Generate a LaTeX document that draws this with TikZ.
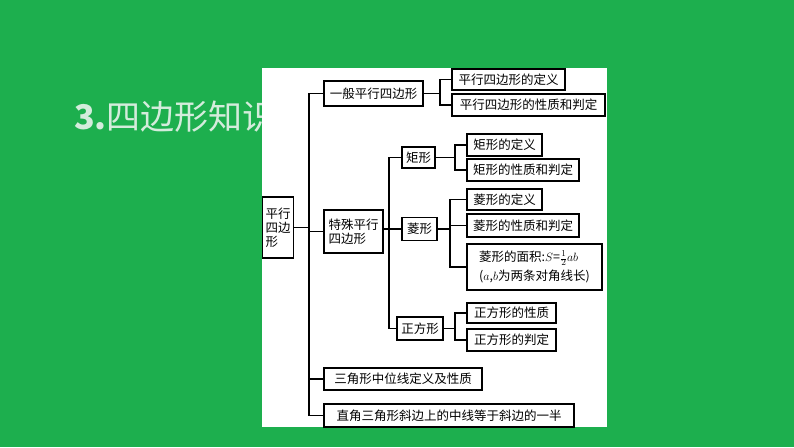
\documentclass[tikz,border=0pt]{standalone}
\usepackage{fontspec}
\newfontfamily\cjk{Noto Sans CJK SC}
\definecolor{bg}{HTML}{1DAF4E}
\definecolor{ttl}{HTML}{D4ECDC}
\begin{document}
\begin{tikzpicture}[x=1pt,y=-1pt,
  bx/.style={draw=black,line width=1.1pt,fill=white,inner sep=0pt,font=\cjk\fontsize{12.5}{14}\selectfont,align=left},
  ln/.style={line width=1.1pt}]
\useasboundingbox (0,0) rectangle (794,447);
\fill[bg] (0,0) rectangle (794,447);
\node[anchor=west,text=ttl,font=\cjk\fontsize{34}{36}\selectfont,inner sep=0] (title) at (74,117) {\textbf{3.}四边形知识};
\fill[white] (262,68) rectangle (607,427);
\node[bx,minimum width=31,minimum height=61] (root) at (278,227.5) {平行\\四边\\形};
\node[bx,minimum width=99,minimum height=25] (g) at (373.5,93.5) {一般平行四边形};
\node[bx,minimum width=59,minimum height=43] (t) at (353.5,231.5) {特殊平行\\四边形};
\node[bx,minimum width=158,minimum height=22] (z) at (403,379) {三角形中位线定义及性质};
\node[bx,minimum width=250,minimum height=23] (r) at (449,415.5) {直角三角形斜边上的中线等于斜边的一半};
\node[bx,minimum width=113,minimum height=21] (g1) at (508.5,79.5) {平行四边形的定义};
\node[bx,minimum width=153,minimum height=22] (g2) at (528.5,105) {平行四边形的性质和判定};
\node[bx,minimum width=33,minimum height=21] (jx) at (418.5,157.5) {矩形};
\node[bx,minimum width=35,minimum height=23] (lx) at (419.5,229) {菱形};
\node[bx,minimum width=46,minimum height=23] (zf) at (420,328.5) {正方形};
\node[bx,minimum width=75,minimum height=22] (j1) at (504.5,145) {矩形的定义};
\node[bx,minimum width=112,minimum height=22] (j2) at (523,170) {矩形的性质和判定};
\node[bx,minimum width=75,minimum height=21] (l1) at (504.5,199.5) {菱形的定义};
\node[bx,minimum width=112,minimum height=23] (l2) at (523,225.5) {菱形的性质和判定};
\node[bx,minimum width=135,minimum height=46] (l3) at (534.5,267) {菱形的面积:$S$=$\frac{1}{2}ab$\\[3pt]($a$,$b$为两条对角线长)};
\node[bx,minimum width=89,minimum height=20] (s1) at (511.5,313) {正方形的性质};
\node[bx,minimum width=89,minimum height=22] (s2) at (511.5,340) {正方形的判定};
\draw[ln] (root.east) -- (309,227.5);
\draw[ln] (g.west) -| (309,415.5) -- (r.west);
\draw[ln] (309,231.5) -- (t.west);
\draw[ln] (309,379) -- (z.west);
\draw[ln] (g.east) -- (440,93.5);
\draw[ln] (g1.west) -| (440,105) -- (g2.west);
\draw[ln] (t.east |- lx.west) -- (lx.west);
\draw[ln] (jx.west) -| (389,328.5) -- (zf.west);
\draw[ln] (jx.east) -- (455,157.5);
\draw[ln] (j1.west) -| (455,170) -- (j2.west);
\draw[ln] (lx.east) -- (450,229);
\draw[ln] (l1.west) -| (450,267) -- (l3.west);
\draw[ln] (450,225.5) -- (l2.west);
\draw[ln] (zf.east) -- (455,328.5);
\draw[ln] (s1.west) -| (455,340) -- (s2.west);
\end{tikzpicture}
\end{document}
